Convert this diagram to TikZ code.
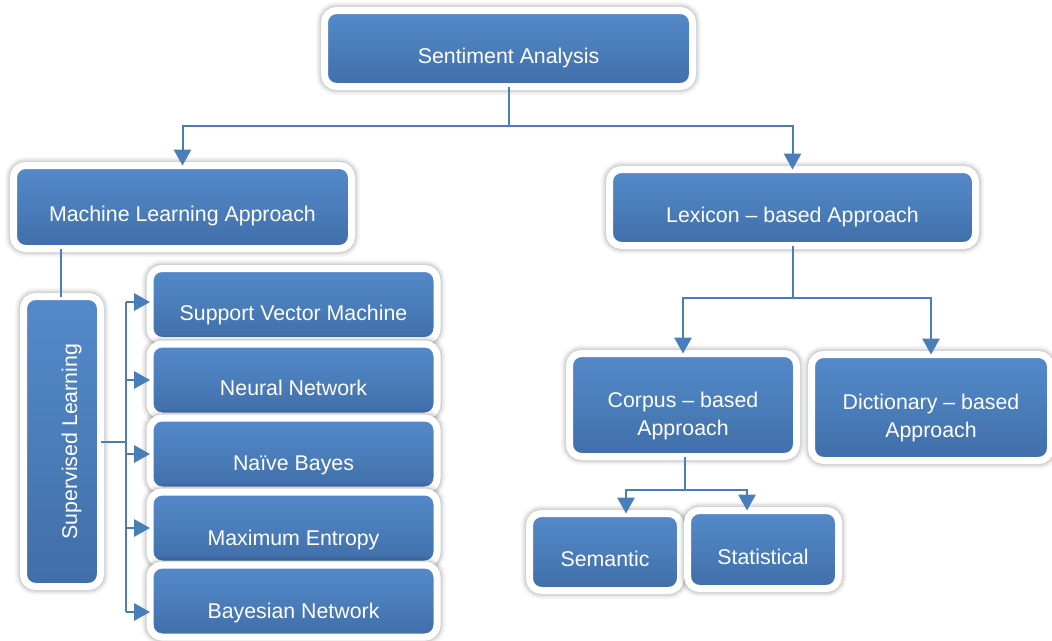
\documentclass[tikz,border=0pt]{standalone}
\usepackage{fontspec}
\setmainfont{Liberation Sans}
\usetikzlibrary{arrows.meta}
\definecolor{bluetop}{HTML}{5589CA}
\definecolor{bluemid}{HTML}{4A7DBA}
\definecolor{bluebot}{HTML}{406EA9}
\definecolor{lineblue}{HTML}{4A7EBB}
\newcommand\boxfont{\fontsize{16}{21}\selectfont}
\tikzset{
  box/.style={rectangle, rounded corners=9pt, draw=white, line width=5.25pt,
    top color=bluetop, bottom color=bluebot, middle color=bluemid,
    text=white, font=\boxfont, inner sep=0pt, outer sep=0pt, align=center,
    text depth=0pt,
    preaction={draw=black, draw opacity=0.04, line width=13pt},
    preaction={draw=black, draw opacity=0.06, line width=10pt},
    preaction={draw=black, draw opacity=0.08, line width=7.5pt}},
  conn/.style={draw=lineblue, line width=1.5pt},
  arr/.style={conn, -{Triangle[width=13pt,length=12pt]}},
  rbox/.style={box, minimum width=215.25pt, minimum height=54pt}
}
\begin{document}
\begin{tikzpicture}[x=0.75pt,y=-0.75pt]
\useasboundingbox (0,0) rectangle (1052,640);
\fill[white] (0,0) rectangle (1052,640);

% top
\node[box, minimum width=276pt, minimum height=57pt, text height=21.75pt] (sa) at (508.5,48.5) {Sentiment Analysis};
\node[box, minimum width=253.5pt, minimum height=62.25pt, text height=21pt] (ml) at (182.5,207) {Machine Learning Approach};
\node[box, minimum width=274.5pt, minimum height=57pt, text height=21.75pt] (lex) at (792.5,207.5) {Lexicon -- based Approach};

% supervised learning
\node[box, rotate=90, minimum width=217.5pt, minimum height=57.75pt, text height=22.5pt] (sl) at (62,441.5) {Supervised Learning};

% right boxes of supervised learning
\node[rbox, text height=23.25pt] (svm) at (293.5,304.5) {Support Vector Machine};
\node[rbox, text height=22.5pt] (nn) at (293.5,380) {Neural Network};
\node[rbox, text height=24pt] (nb) at (293.5,454) {Naïve Bayes};
\node[rbox, text height=25.5pt] (me) at (293.5,528) {Maximum Entropy};
\node[rbox, text height=25.5pt] (bn) at (293.5,601) {Bayesian Network};

% lexicon children
\node[box, minimum width=170.25pt, minimum height=77.25pt, text height=45pt] (corp) at (683,405) {Corpus -- based\\Approach};
\node[box, minimum width=179.25pt, minimum height=79.5pt, text height=44.25pt] (dict) at (931,407.5) {Dictionary -- based\\Approach};

% corpus children
\node[box, minimum width=113.25pt, minimum height=57.75pt, text height=21pt] (sem) at (605,552) {Semantic};
\node[box, minimum width=113.25pt, minimum height=58.5pt, text height=21.75pt] (stat) at (763,549.5) {Statistical};

% connectors: top
\coordinate (t) at (508.5,126);
\draw[conn] (sa.south) -- (t);
\draw[arr] (t) -| (ml.north);
\draw[arr] (t) -| (lex.north);

% ML -> SL
\coordinate (m1) at (61,0);
\draw[conn] (ml.south -| m1) -- (sl.east -| m1);

% SL bus
\coordinate (bt) at (126,302);
\coordinate (bb) at (126,612);
\draw[conn] (sl.south) -- (sl.south -| bt);
\draw[conn] (bt) -- (bb);
\draw[arr] (bt) -- (bt -| svm.west);
\draw[arr] (bt |- nn.west) -- (nn.west);
\draw[arr] (bt |- nb.west) -- (nb.west);
\draw[arr] (bt |- me.west) -- (me.west);
\draw[arr] (bb) -- (bb -| bn.west);

% lexicon children
\coordinate (lj) at (792.5,298);
\draw[conn] (lex.south) -- (lj);
\draw[arr] (lj) -| (corp.north);
\draw[arr] (lj) -| (dict.north);

% corpus children
\coordinate (cj) at (685,490);
\coordinate (s1) at (626,490);
\coordinate (s2) at (747,490);
\draw[conn] (corp.south -| cj) -- (cj);
\draw[arr] (cj) -- (s1) -- (s1 |- sem.north);
\draw[arr] (cj) -- (s2) -- (s2 |- stat.north);
\end{tikzpicture}
\end{document}
